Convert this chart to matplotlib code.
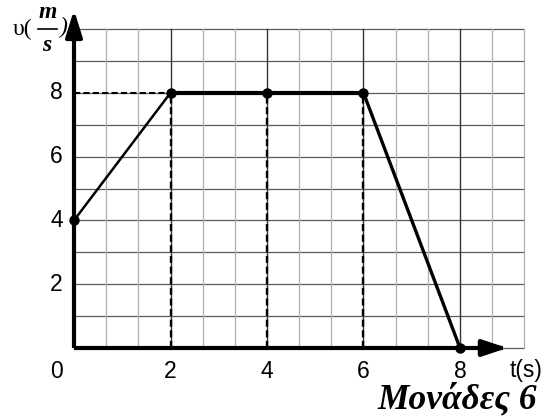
import matplotlib.pyplot as plt

# данные графика v(t)
t_points = [0, 2, 4, 6, 8]
v_points = [4, 8, 8, 8, 0]
x_ticks = [2, 4, 6, 8]
y_ticks = [2, 4, 6, 8]
x_lines = [k * 2 / 3 for k in range(15)]  # сетка по t (шаг 2/3)
y_lines = list(range(11))  # сетка по v


def main():
    fig = plt.figure(figsize=(5.44, 4.19), dpi=100)
    ax = fig.add_axes([0, 0, 1, 1])
    # пиксели -> данные: t=0 на x=74, 48.25 px/ед; v=0 на y=348 (сверху), 31.9 px/ед
    ax.set_xlim(-74 / 48.25, (544 - 74) / 48.25)
    ax.set_ylim(-(419 - 348) / 31.9, 348 / 31.9)
    ax.axis('off')

    t_max = x_lines[-1]
    # сетка
    for v in y_lines:
        ax.plot([0, t_max], [v, v], color='#5a5a5a', lw=0.9, zorder=1)
    for x in x_lines:
        even = abs(x - round(x)) < 1e-6 and round(x) % 2 == 0
        ax.plot([x, x], [0, 10], color='#333333' if even else '#b0b0b0',
                lw=1.0 if even else 0.9, zorder=1)

    # пунктир
    ax.plot([0, t_points[1]], [v_points[1], v_points[1]], color='black', lw=1.5,
            ls=(0, (3, 1.5)), zorder=2)
    for i in range(1, 4):
        ax.plot([t_points[i], t_points[i]], [0, v_points[i]], color='black', lw=1.7,
                ls=(0, (3, 1.5)), zorder=2)

    # оси
    ax.plot([0, 0], [0, 10.0], color='black', lw=3, zorder=4, solid_capstyle='butt')
    ax.plot([0, 8.9], [0, 0], color='black', lw=3, zorder=4, solid_capstyle='butt')
    ax.annotate('', xy=(0, 10.6), xytext=(0, 9.9), annotation_clip=False,
                arrowprops=dict(arrowstyle='-|>,head_length=1.6,head_width=0.5',
                                color='black', lw=3, shrinkA=0, shrinkB=0), zorder=5)
    ax.annotate('', xy=(8.98, 0), xytext=(8.5, 0), annotation_clip=False,
                arrowprops=dict(arrowstyle='-|>,head_length=1.5,head_width=0.5',
                                color='black', lw=3, shrinkA=0, shrinkB=0), zorder=5)

    # график
    ax.plot(t_points[:2], v_points[:2], color='black', lw=1.8, zorder=6)
    ax.plot(t_points[1:4], v_points[1:4], color='black', lw=3, zorder=6)
    ax.plot(t_points[3:], v_points[3:], color='black', lw=2.4, zorder=6)
    ax.plot(t_points, v_points, 'o', color='black', ms=6.5, zorder=7, clip_on=False)

    # подписи
    font = dict(family='Liberation Sans', fontsize=16.5)
    for v in y_ticks:
        ax.text(-0.36, v, str(v), ha='center', va='center', **font)
    ax.text(-0.36, -0.75, '0', ha='center', va='center', **font)
    for x in x_ticks:
        ax.text(x, -0.75, str(x), ha='center', va='center', **font)
    ax.text(9.02, -0.72, 't(s)', ha='left', va='center', **font)

    ax.text(-1.27, 10.0, 'υ(', ha='left', va='center', family='Liberation Serif',
            fontsize=17)
    serif = dict(family='Liberation Serif', weight='bold', style='italic', fontsize=17)
    ax.text(-0.55, 10.52, 'm', ha='center', va='center', **serif)
    ax.plot([-0.74, -0.36], [10.0, 10.0], color='black', lw=1.2, clip_on=False)
    ax.text(-0.57, 9.48, 's', ha='center', va='center', **serif)
    ax.text(-0.3, 10.05, ')', ha='left', va='center', family='Liberation Serif',
            style='italic', fontsize=17)

    ax.text(9.6, -1.63, 'Μονάδες 6', ha='right', va='center', family='Liberation Serif',
            weight='bold', style='italic', fontsize=25.5)

    fig.savefig('out.png', dpi=100)


if __name__ == "__main__":
    main()
